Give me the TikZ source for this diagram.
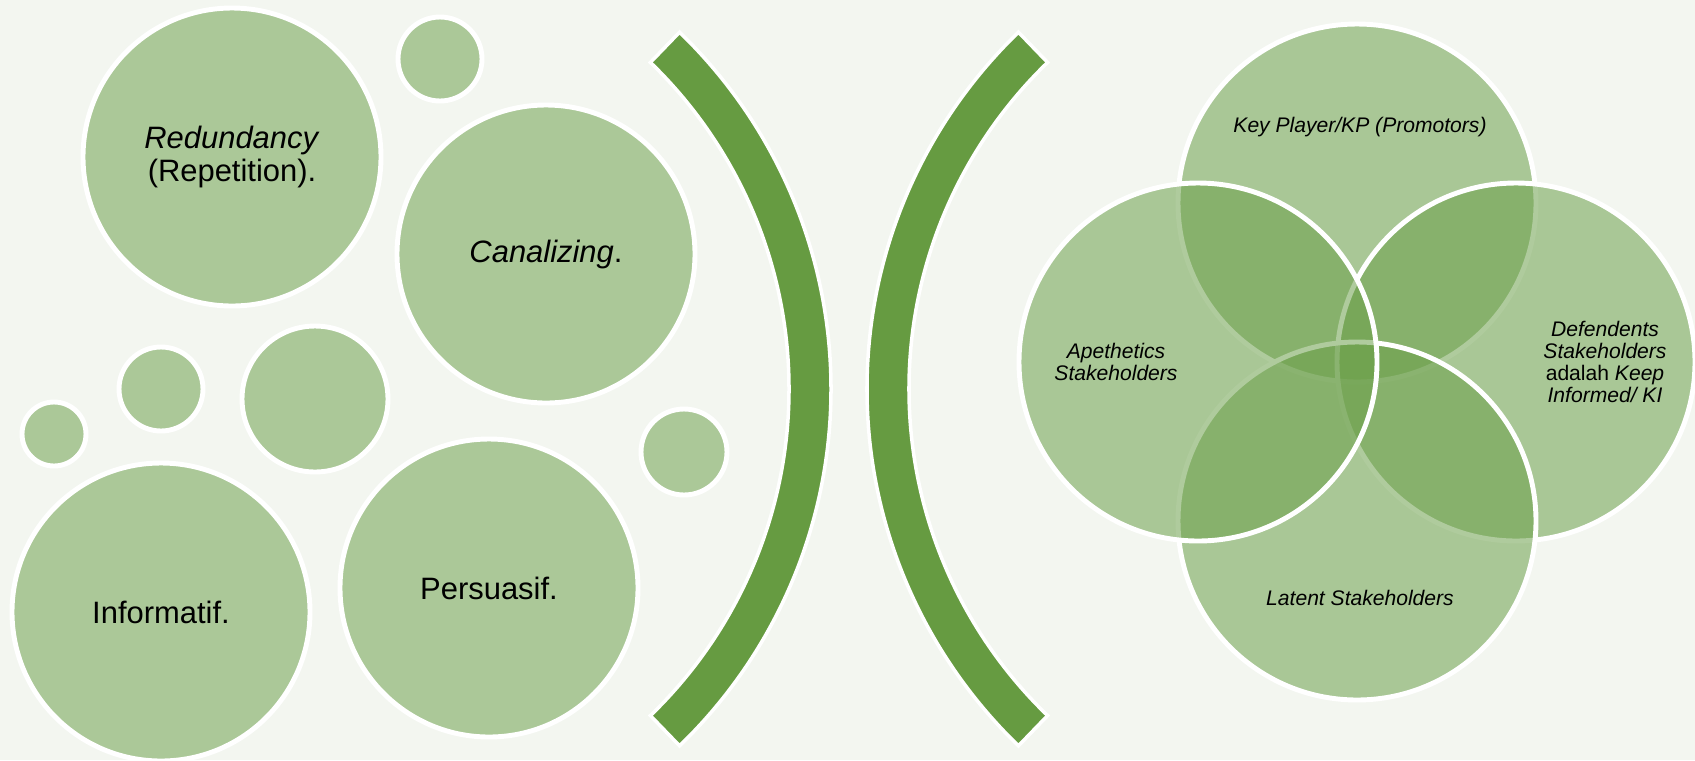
\documentclass[tikz,border=0pt]{standalone}
\usepackage{fontspec}
\setmainfont{Liberation Sans}
\usetikzlibrary{calc, positioning}
\definecolor{bgpaper}{RGB}{243,246,240}
\definecolor{bubblegreen}{RGB}{171,200,152}
\definecolor{arcgreen}{RGB}{102,155,65}
\definecolor{venngreen}{RGB}{108,160,74}
\tikzset{
    bubble/.style={circle, fill=bubblegreen, draw=white, line width=1.4pt, inner sep=0pt, align=center, font=\fontsize{8.8}{9.3}\selectfont},
    venn/.style={circle, fill=venngreen, fill opacity=0.54, draw=white, line width=1.4pt, inner sep=0pt, minimum size=35.8mm},
    venntext/.style={align=center, inner sep=0pt, font=\fontsize{6}{6.3}\selectfont\itshape},
    bracket/.style={fill=arcgreen, draw=white, line width=1pt}
}

\begin{document}
\begin{tikzpicture}[x=0.1mm, y=0.1mm]

    % ============================================================
    % Canvas
    % ============================================================
    \useasboundingbox (0,0) rectangle (1695,760);
    \fill[bgpaper] (0,0) rectangle (1695,760);
    \clip (0,0) rectangle (1695,760);

    % ============================================================
    % Left: bubbles
    % ============================================================
    \node[bubble, minimum size=29.8mm] (redund) at (232,603) {\textit{Redundancy}\\(Repetition).};
    \node[bubble, minimum size=8.4mm] (dot_a) at (440,701) {};
    \node[bubble, minimum size=29.8mm] (canal) at (546,506) {\textit{Canalizing}.};
    \node[bubble, minimum size=8.4mm] (dot_b) at (161,371) {};
    \node[bubble, minimum size=6.4mm] (dot_c) at (54,326) {};
    \node[bubble, minimum size=14.6mm] (dot_d) at (315,361) {};
    \node[bubble, minimum size=29.8mm] (inform) at (161,148) {Informatif.};
    \node[bubble, minimum size=29.8mm] (persua) at (489,172) {Persuasif.};
    \node[bubble, minimum size=8.6mm] (dot_e) at (684,308) {};

    % ============================================================
    % Middle: two brackets
    % ============================================================
    \coordinate (lc) at (335,371);
    \coordinate (rc) at (1363,371);
    \draw[bracket] ($(lc)+(46:496)$) arc[start angle=46, end angle=-46, radius=496]
        -- ($(lc)+(-46:454)$) arc[start angle=-46, end angle=46, radius=454] -- cycle;
    \draw[bracket] ($(rc)+(134:496)$) arc[start angle=134, end angle=226, radius=496]
        -- ($(rc)+(226:454)$) arc[start angle=226, end angle=134, radius=454] -- cycle;

    % ============================================================
    % Right: four-circle venn
    % ============================================================
    \coordinate (vc) at (1357,398);
    \node[venn] (kp) at ($(vc)+(0,159)$) {};
    \node[venn] (ki) at ($(vc)+(159,0)$) {};
    \node[venn] (lt) at ($(vc)+(0,-159)$) {};
    \node[venn] (ap) at ($(vc)+(-159,0)$) {};

    % labels
    \node[venntext] (kp_txt) at ($(kp.center)+(3,76)$) {Key Player/KP (Promotors)};
    \node[venntext] (ap_txt) at ($(ap.center)+(-82,0)$) {Apethetics\\Stakeholders};
    \node[venntext] (ki_txt) at ($(ki.center)+(89,0)$) {Defendents\\Stakeholders\\{\upshape adalah} Keep\\Informed/ KI};
    \node[venntext] (lt_txt) at ($(lt.center)+(3,-77)$) {Latent Stakeholders};

\end{tikzpicture}
\end{document}
